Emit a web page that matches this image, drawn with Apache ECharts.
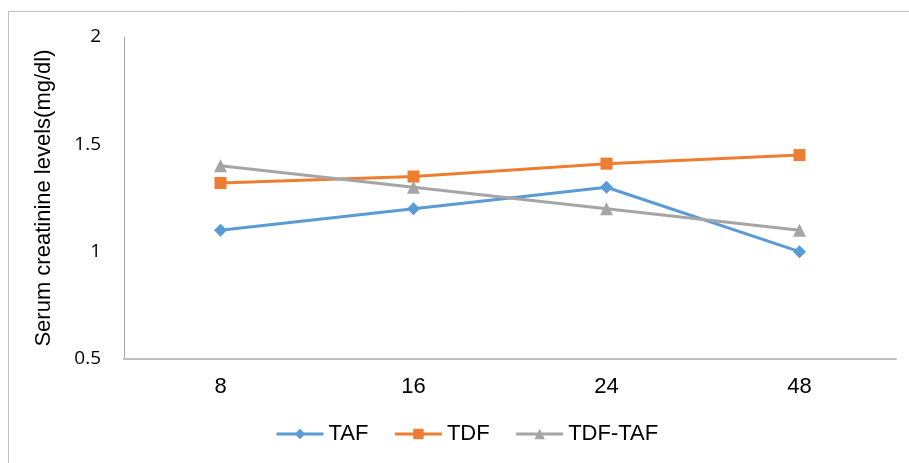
<!DOCTYPE html>
<html><head><meta charset="utf-8">
<script src="https://cdn.jsdelivr.net/npm/echarts@6/dist/echarts.min.js"></script>
<style>html,body{margin:0;padding:0;background:#fff}#c{width:909px;height:463px}</style>
</head><body><div id="c"></div>
<script>
const categories = ['8', '16', '24', '48'];
const taf = [1.1, 1.2, 1.3, 1.0];
const tdf = [1.32, 1.35, 1.41, 1.45];
const tdfTaf = [1.4, 1.3, 1.2, 1.1];
const yTicks = [0.5, 1, 1.5, 2];

const chart = echarts.init(document.getElementById('c'), null, {renderer: 'canvas'});
function mk(name, data, color, symbol, size) {
  return {
    name, type: 'line', data, symbol, symbolSize: size,
    lineStyle: {color, width: 3}, itemStyle: {color},
    emphasis: {disabled: true}
  };
}
chart.setOption({
  animation: false,
  graphic: [{type: 'rect', shape: {x: 8.5, y: 11.5, width: 920, height: 470},
    style: {fill: 'none', stroke: '#BFBFBF', lineWidth: 1}, silent: true}],
  grid: {left: 124, right: 13, top: 37, bottom: 104},
  legend: {
    top: 423, left: 275, padding: 0, itemWidth: 47, itemHeight: 13, itemGap: 25,
    lineStyle: {width: 3},
    textStyle: {fontFamily: 'Liberation Sans', fontSize: 22, color: '#000'},
    data: ['TAF', 'TDF', 'TDF-TAF']
  },
  xAxis: {
    type: 'category', data: categories, boundaryGap: true,
    axisLine: {lineStyle: {color: '#BFBFBF', width: 2}},
    axisTick: {show: false},
    axisLabel: {fontFamily: 'Liberation Sans', fontSize: 22, color: '#000', margin: 17}
  },
  yAxis: {
    type: 'value', min: 0.5, max: 2, interval: 0.5,
    name: 'Serum creatinine levels(mg/dl)', nameLocation: 'middle', nameGap: 69,
    nameTextStyle: {fontFamily: 'Liberation Sans', fontSize: 22, color: '#000'},
    axisLine: {show: true, lineStyle: {color: '#A6A6A6', width: 1}},
    axisTick: {show: false}, splitLine: {show: false},
    axisLabel: {fontFamily: 'Open Sans', fontSize: 19, color: '#000', margin: 23,
      formatter: v => yTicks.includes(v) ? String(v) : ''}
  },
  series: [
    mk('TAF', taf, '#5B9BD5', 'diamond', 13),
    mk('TDF', tdf, '#ED7D31', 'rect', 12),
    mk('TDF-TAF', tdfTaf, '#A5A5A5', 'triangle', 13)
  ]
});
</script></body></html>
